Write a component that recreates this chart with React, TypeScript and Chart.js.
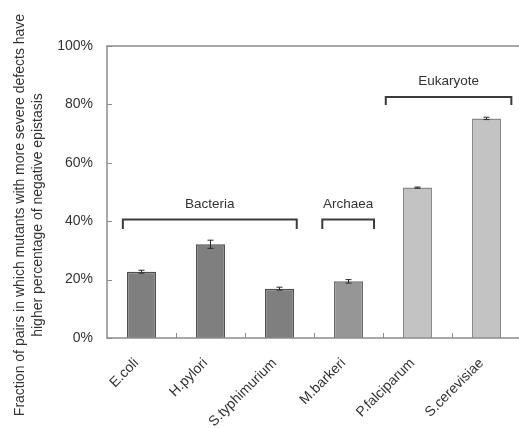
import React, { useEffect, useRef } from "react";
import { Chart, registerables } from "chart.js";

Chart.register(...registerables);

const categories = ["E.coli", "H.pylori", "S.typhimurium", "M.barkeri", "P.falciparum", "S.cerevisiae"];
const values = [22.7, 32.1, 16.9, 19.4, 51.5, 75.2];
const errors = [0.5, 1.4, 0.5, 0.6, 0.2, 0.4];
const yTicks = [0, 20, 40, 60, 80, 100];
const yTitleLines = [
  "Fraction of pairs in which mutants with more severe defects have",
  "higher percentage of negative epistasis",
];
const groupLabels = ["Bacteria", "Archaea", "Eukaryote"];
const groupFrom = [-0.27, 2.62, 3.54];
const groupTo = [2.25, 3.37, 5.36];
const groupTop = [40.6, 40.6, 82.5];
const groupLeg = [37.3, 37.3, 79.8];

const barFill = ["#7f7f7f", "#7f7f7f", "#7f7f7f", "#969696", "#c3c3c3", "#c3c3c3"];
const barBorder = ["#4f4f4f", "#4f4f4f", "#4f4f4f", "#6a6a6a", "#8a8a8a", "#8a8a8a"];

const FONT = "'Liberation Sans', Arial, sans-serif";
const TEXT = "#333333";

const decor = {
  id: "decor",
  afterDatasetsDraw(chart: any) {
    const { ctx, chartArea: a, scales } = chart;
    const x = scales.x;
    const y = scales.y;
    ctx.save();
    // error bars
    ctx.strokeStyle = "#2a2a2a";
    ctx.lineWidth = 1;
    values.forEach((v, i) => {
      const cx = x.getPixelForValue(i);
      const yt = y.getPixelForValue(v + errors[i]);
      const yb = y.getPixelForValue(v - errors[i]);
      ctx.beginPath();
      ctx.moveTo(cx, yt);
      ctx.lineTo(cx, yb);
      ctx.moveTo(cx - 3, yt);
      ctx.lineTo(cx + 3, yt);
      ctx.moveTo(cx - 3, yb);
      ctx.lineTo(cx + 3, yb);
      ctx.stroke();
    });
    // frame
    ctx.strokeStyle = "#8c8c8c";
    ctx.lineWidth = 1.5;
    ctx.strokeRect(a.left, a.top, a.right - a.left, a.bottom - a.top);
    // inner ticks
    ctx.lineWidth = 1;
    yTicks.forEach((t) => {
      const py = Math.round(y.getPixelForValue(t)) + 0.5;
      ctx.beginPath();
      ctx.moveTo(a.left, py);
      ctx.lineTo(a.left + 5, py);
      ctx.stroke();
    });
    for (let i = 1; i < categories.length; i++) {
      const px = Math.round(x.getPixelForValue(i - 0.5)) + 0.5;
      ctx.beginPath();
      ctx.moveTo(px, a.bottom);
      ctx.lineTo(px, a.bottom - 5);
      ctx.stroke();
    }
    // brackets
    ctx.strokeStyle = "#3c3c3c";
    ctx.lineWidth = 2;
    ctx.fillStyle = TEXT;
    ctx.font = `13.5px ${FONT}`;
    ctx.textAlign = "center";
    ctx.textBaseline = "middle";
    groupLabels.forEach((lab, i) => {
      const x0 = x.getPixelForValue(groupFrom[i]);
      const x1 = x.getPixelForValue(groupTo[i]);
      const yt = y.getPixelForValue(groupTop[i]);
      const yl = y.getPixelForValue(groupLeg[i]);
      ctx.beginPath();
      ctx.moveTo(x0, yl);
      ctx.lineTo(x0, yt);
      ctx.lineTo(x1, yt);
      ctx.lineTo(x1, yl);
      ctx.stroke();
      ctx.fillText(lab, (x0 + x1) / 2, yt - 15.5);
    });
    // y title
    ctx.font = `14px ${FONT}`;
    ctx.fillStyle = TEXT;
    ctx.translate(0, 215);
    ctx.rotate(-Math.PI / 2);
    yTitleLines.forEach((l, i) => {
      ctx.fillText(l, 0, 20.5 + i * 18);
    });
    ctx.restore();
  },
};

export default function App() {
  const ref = useRef<HTMLCanvasElement>(null);
  useEffect(() => {
    document.body.style.overflow = "hidden";
    const chart = new Chart(ref.current as HTMLCanvasElement, {
      type: "bar",
      data: {
        labels: categories,
        datasets: [
          {
            data: values,
            backgroundColor: barFill,
            borderColor: barBorder,
            borderWidth: 1.5,
            barPercentage: 0.42,
            categoryPercentage: 1,
          },
        ],
      },
      options: {
        animation: false,
        responsive: false,
        devicePixelRatio: 1,
        layout: { padding: { top: 46, right: 2, left: 0, bottom: 0 } },
        plugins: { legend: { display: false }, tooltip: { enabled: false } },
        scales: {
          x: {
            grid: { display: false },
            border: { display: false },
            ticks: {
              color: TEXT,
              font: { size: 14, family: FONT },
              minRotation: 45,
              maxRotation: 45,
              padding: 9,
              labelOffset: -5,
            },
            afterFit: (s: any) => {
              s.height = 90;
            },
          },
          y: {
            min: 0,
            max: 100,
            grid: { display: false },
            border: { display: false },
            ticks: {
              stepSize: 20,
              color: TEXT,
              font: { size: 14, family: FONT },
              padding: 6,
              callback: (v: any) => v + "%",
            },
            afterFit: (s: any) => {
              s.width = 107;
            },
          },
        },
      },
      plugins: [decor],
    });
    return () => chart.destroy();
  }, []);
  return (
    <div style={{ position: "fixed", left: 0, top: 0, width: 523, height: 428, background: "#fff" }}>
      <canvas ref={ref} width={523} height={428} />
    </div>
  );
}
